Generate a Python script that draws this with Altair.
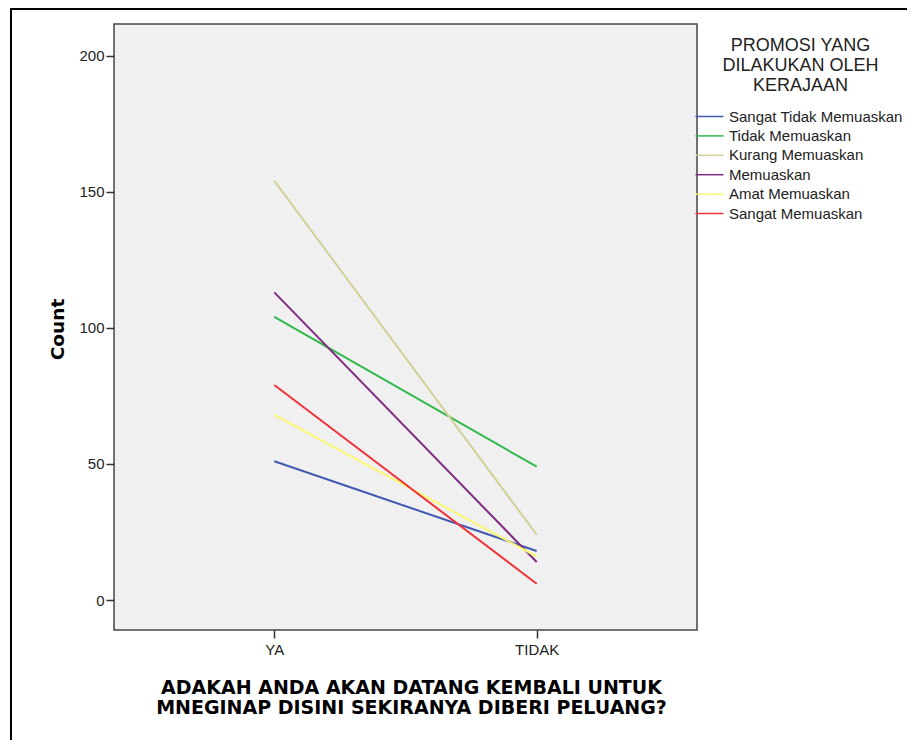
import altair as alt
import pandas as pd

answers = ["YA", "TIDAK"]
groups = [
    "Sangat Tidak Memuaskan",
    "Tidak Memuaskan",
    "Kurang Memuaskan",
    "Memuaskan",
    "Amat Memuaskan",
    "Sangat Memuaskan",
]
count_ya = [51, 104, 154, 113, 68, 79]
count_tidak = [18, 49, 24, 14, 16, 6]
colors = ["#4058B0", "#30B84A", "#D4CF98", "#7E2B80", "#FBF873", "#EF3338"]
y_ticks = [0, 50, 100, 150, 200]

rows = []
for g, a, b in zip(groups, count_ya, count_tidak):
    rows.append({"answer": answers[0], "group": g, "count": a})
    rows.append({"answer": answers[1], "group": g, "count": b})
df = pd.DataFrame(rows)

frame = alt.Chart(pd.DataFrame({"k": [0]})).mark_rect(
    fillOpacity=0, stroke="#000000", strokeWidth=2
).encode(
    x=alt.value(-103), x2=alt.value(1200), y=alt.value(-15), y2=alt.value(1200)
)

lines = alt.Chart(df).mark_line(strokeWidth=2).encode(
    x=alt.X(
        "answer:N",
        sort=answers,
        scale=alt.Scale(type="point", padding=0.611),
        axis=alt.Axis(
            title=["ADAKAH ANDA AKAN DATANG KEMBALI UNTUK",
                   "MNEGINAP DISINI SEKIRANYA DIBERI PELUANG?"],
            labelAngle=0,
            domain=False,
            tickSize=8,
            tickColor="#333333",
            tickWidth=1.5,
            labelPadding=4,
            labelFont="Liberation Sans",
            labelFontSize=15,
            labelColor="#222222",
            titleFont="DejaVu Sans",
            titleFontSize=19,
            titleFontWeight="bold",
            titleColor="#000000",
            titleLineHeight=20,
            titleAlign="center",
            titleBaseline="top",
            titleX=297,
            titleY=48,
        ),
    ),
    y=alt.Y(
        "count:Q",
        scale=alt.Scale(domain=[-11, 211.6], nice=False, zero=False),
        axis=alt.Axis(
            values=y_ticks,
            title="Count",
            grid=False,
            domain=False,
            tickSize=8,
            tickColor="#333333",
            tickWidth=1.5,
            labelPadding=2,
            labelFont="Liberation Sans",
            labelFontSize=15,
            labelColor="#222222",
            titleFont="DejaVu Sans",
            titleFontSize=18.5,
            titleFontWeight="bold",
            titleColor="#000000",
            titleBaseline="middle",
            titleAngle=270,
            titleX=-57,
            titleY=305,
        ),
    ),
    color=alt.Color(
        "group:N",
        scale=alt.Scale(domain=groups, range=colors),
        legend=alt.Legend(
            title=["PROMOSI YANG", "DILAKUKAN OLEH", "KERAJAAN"],
            orient="none",
            legendX=584.5,
            legendY=13,
            padding=0,
            symbolType="M-1.4,0L1.4,0",
            symbolSize=400,
            symbolStrokeWidth=1.5,
            labelFont="Liberation Sans",
            labelFontSize=15,
            labelColor="#222222",
            labelOffset=8.5,
            labelLimit=400,
            rowPadding=0.4,
            titleFont="Liberation Sans",
            titleFontSize=18,
            titleFontWeight="normal",
            titleColor="#222222",
            titleLineHeight=20,
            titleAnchor="middle",
            titleAlign="center",
            titlePadding=10.5,
        ),
    ),
)

chart = alt.layer(frame, lines).properties(
    width=583,
    height=606,
    autosize=alt.AutoSizeParams(type="none"),
    padding={"left": 106, "top": 16, "right": 210, "bottom": 110},
    background="#ffffff",
).configure_view(
    fill="#F0F0F0", stroke="#444444", strokeWidth=1.5
)

chart.save("out.html", embed_options={"renderer": "svg", "actions": False})
